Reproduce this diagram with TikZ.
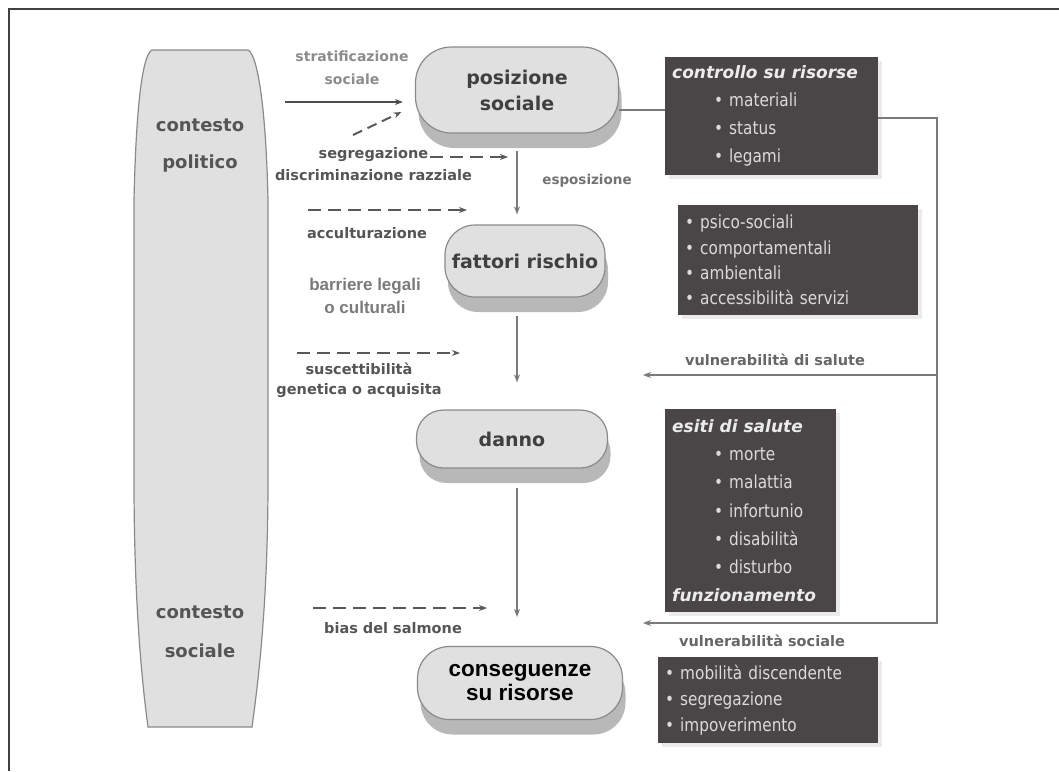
\documentclass[tikz,border=0pt]{standalone}
\usepackage{fontspec}
\setmainfont{DejaVu Sans}
\newfontfamily\heavyfont{Liberation Sans}
\newfontfamily\boxfont{DejaVu Sans}[FakeStretch=0.85]
\usetikzlibrary{arrows.meta,shadows}

\definecolor{pillfill}{HTML}{E0E0E0}
\definecolor{pilldraw}{HTML}{8A8A8A}
\definecolor{pillshade}{HTML}{B8B8B8}
\definecolor{boxfill}{HTML}{4A4648}
\definecolor{boxtext}{HTML}{DADADA}
\definecolor{labgray}{HTML}{555555}
\definecolor{linegray}{HTML}{7A7A7A}
\newcommand{\boxhead}[1]{{\fontspec{DejaVu Sans}\bfseries\itshape\fontsize{17}{20}\selectfont\color{white!92!black}#1}}

\begin{document}
\begin{tikzpicture}[x=1pt, y=-1pt,
    pill/.style={draw=pilldraw, line width=1.2pt, fill=pillfill, rounded corners=30pt,
      text=black!75, align=center, font=\bfseries\fontsize{19}{26}\selectfont,
      drop shadow={shadow xshift=3pt, shadow yshift=-15pt, fill=pillshade, opacity=1}},
    darkbox/.style={fill=boxfill, text=boxtext, anchor=north west, inner xsep=7pt, inner ysep=4pt,
      align=left, font=\boxfont\fontsize{18}{28}\selectfont,
      drop shadow={shadow xshift=4pt, shadow yshift=-4pt, fill=black!8, opacity=1}},
    lab/.style={text=labgray, align=center, font=\bfseries\fontsize{14.5}{22}\selectfont},
    flow/.style={draw=linegray, line width=1.8pt, -{Stealth[length=8pt,width=6pt]}},
    dashflow/.style={draw=black!65, line width=2pt, dash pattern=on 13pt off 7pt,
      -{Stealth[length=8pt,width=6pt]}}
  ]
  \useasboundingbox (0,0) rectangle (1059,771);
  % frame
  \draw[line width=1.5pt, black!75] (9,771) -- (9,9) -- (1059,9);

  % contesto
  \filldraw[fill=pillfill, draw=pilldraw, line width=1.2pt]
    (152,50) -- (248,50) .. controls (258,55) and (266,110) .. (268,200) -- (268,480)
    .. controls (268,610) and (257,690) .. (252,727) -- (148,727)
    .. controls (143,690) and (134,610) .. (134,480) -- (134,200)
    .. controls (136,110) and (142,55) .. (152,50) -- cycle;
  \node[text=labgray, align=center, font=\bfseries\fontsize{18}{37}\selectfont] (pol) at (200,146) {contesto\\politico};
  \node[text=labgray, align=center, font=\bfseries\fontsize{18}{39}\selectfont] (soc) at (200,632) {contesto\\sociale};

  % main chain
  \node[pill, minimum width=203pt, minimum height=86pt, rounded corners=36pt] (pos) at (517,90) {posizione\\sociale};
  \node[pill, minimum width=160pt, minimum height=72pt] (fat) at (525,261) {fattori rischio};
  \node[pill, minimum width=191pt, minimum height=58pt, rounded corners=27pt] (dan) at (512,439) {danno};
  \node[pill, minimum width=205pt, minimum height=73pt, rounded corners=32pt, text=black,
    font=\heavyfont\bfseries\fontsize{22.5}{24}\selectfont] (cons) at (520,683) {conseguenze\\su risorse};

  \draw[flow, shorten <=17pt, shorten >=10pt] (pos.south) -- (pos.south |- fat.north);
  \draw[flow, shorten <=18pt, shorten >=27pt] (pos.south |- fat.south) -- (pos.south |- dan.north);
  \draw[flow, shorten <=19pt, shorten >=29pt] (pos.south |- dan.south) -- (pos.south |- cons.north);
  \node[lab, text=black!55, font=\bfseries\fontsize{13.5}{20}\selectfont] (espo) at (587,181) {esposizione};

  % left side
  \coordinate (stratin) at (285,102);
  \draw[flow, draw=black!70, line width=2.2pt, shorten >=12pt] (stratin) -- (stratin -| pos.west);
  \node[lab, text=black!45, font=\bfseries\fontsize{14}{23}\selectfont] (strat) at (352,68) {stratificazione\\sociale};

  \coordinate (segdiag) at (353,135);
  \draw[dashflow, dash pattern=on 10pt off 6pt] (segdiag) -- ([shift={(-13.5,22)}]pos.west);
  \node[lab] (seg) at (373.5,164) {segregazione\\discriminazione razziale};
  \coordinate (segin) at (430,157);
  \coordinate (segout) at (508,157);
  \draw[dashflow] (segin) -- (segout);

  \coordinate (accin) at (308,210);
  \coordinate (accout) at (467,210);
  \draw[dashflow] (accin) -- (accout);
  \node[lab] (acc) at (367,233) {acculturazione};

  \node[text=black!52, align=center, font=\heavyfont\bfseries\fontsize{17}{23}\selectfont] (barr) at (365,296) {barriere legali\\o culturali};

  \coordinate (susin) at (297,353);
  \coordinate (susout) at (460,353);
  \draw[dashflow] (susin) -- (susout);
  \node[lab, font=\bfseries\fontsize{14.5}{20}\selectfont] (sus) at (359,380) {suscettibilità\\genetica o acquisita};

  \coordinate (biasin) at (313,608);
  \coordinate (biasout) at (487,608);
  \draw[dashflow] (biasin) -- (biasout);
  \node[lab] (bias) at (393,628) {bias del salmone};

  % right side
  \node[darkbox, minimum width=213pt, minimum height=118pt, text width=199pt] (ctrl) at (665,57)
    {\boxhead{controllo su risorse}\\
     \hspace*{42pt}• materiali\\
     \hspace*{42pt}• status\\
     \hspace*{42pt}• legami};
  \node[darkbox, minimum width=240pt, minimum height=110pt, text width=226pt,
    font=\boxfont\fontsize{18}{25.3}\selectfont] (risk) at (678,205)
    {• psico-sociali\\• comportamentali\\• ambientali\\• accessibilità servizi};
  \node[darkbox, minimum width=171pt, minimum height=203pt, text width=157pt,
    font=\boxfont\fontsize{18}{28.3}\selectfont] (esiti) at (665,409)
    {\boxhead{esiti di salute}\\
     \hspace*{42pt}• morte\\
     \hspace*{42pt}• malattia\\
     \hspace*{42pt}• infortunio\\
     \hspace*{42pt}• disabilità\\
     \hspace*{42pt}• disturbo\\
     \boxhead{funzionamento}};
  \node[darkbox, minimum width=220pt, minimum height=86pt, text width=206pt,
    font=\boxfont\fontsize{18}{26}\selectfont] (conbox) at (658,657)
    {• mobilità discendente\\• segregazione\\• impoverimento};

  \draw[draw=linegray, line width=1.8pt] ([yshift=6pt]ctrl.west) -- ([yshift=6pt]ctrl.west -| pos.east);
  \coordinate (hv) at (937,375);
  \coordinate (hvtip) at (643,375);
  \coordinate (sv) at (937,623);
  \coordinate (svtip) at (643,623);
  \draw[flow] ([yshift=-2pt]ctrl.east) -| (sv) -- (svtip);
  \draw[flow] (hv) -- (hvtip);
  \node[lab, text=black!60] (vsal) at (775,360) {vulnerabilità di salute};
  \node[lab, text=black!60] (vsoc) at (762,641) {vulnerabilità sociale};
\end{tikzpicture}
\end{document}
